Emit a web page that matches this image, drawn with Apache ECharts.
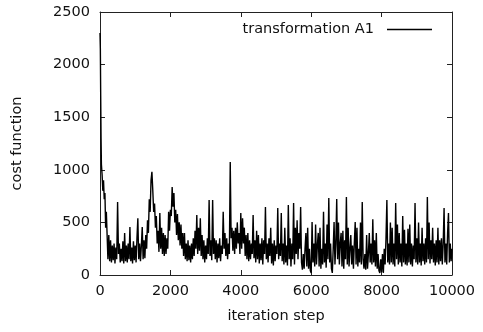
<!DOCTYPE html>
<html>
<head>
<meta charset="utf-8">
<script src="https://cdn.jsdelivr.net/npm/echarts@6/dist/echarts.min.js"></script>
<style>
html,body{margin:0;padding:0;background:#fff;}
#chart{width:483px;height:332px;}
</style>
</head>
<body>
<div id="chart"></div>
<script>
// initial descent (iteration step, cost)
const startSteps = [0, 10, 20, 30, 40, 60, 80, 100, 120, 140, 160, 180];
const startCosts = [2300, 2150, 1700, 1300, 1050, 950, 800, 900, 720, 780, 450, 600];
// remaining samples, one every 25 steps from step 200 to 10000
const sampleStart = 200;
const sampleStep = 25;
const costs = [
  400, 150, 380, 130, 330, 120, 280, 140, 300, 110, 260, 150, 694, 200, 300, 120, 250, 130, 320, 110,
  400, 130, 280, 120, 300, 150, 456, 130, 260, 110, 320, 140, 280, 120, 350, 540, 150, 300, 130, 280,
  456, 150, 330, 160, 380, 250, 520, 400, 720, 600, 900, 980, 800, 600, 680, 450, 560, 300, 420, 220,
  590, 250, 450, 200, 400, 180, 380, 200, 350, 250, 600, 420, 620, 560, 836, 650, 780, 500, 620, 380,
  580, 330, 500, 280, 480, 250, 400, 180, 400, 150, 300, 130, 330, 140, 280, 120, 300, 150, 350, 180,
  420, 250, 570, 200, 450, 230, 540, 180, 380, 150, 330, 120, 280, 150, 350, 200, 713, 180, 330, 140,
  713, 200, 350, 150, 330, 120, 300, 160, 350, 130, 280, 200, 600, 250, 400, 180, 350, 150, 300, 200,
  1075, 350, 450, 230, 420, 200, 450, 250, 500, 300, 400, 200, 590, 250, 540, 300, 450, 180, 380, 150,
  400, 130, 330, 150, 300, 200, 570, 160, 330, 120, 420, 150, 380, 110, 300, 140, 350, 100, 330, 200,
  646, 150, 300, 120, 350, 180, 450, 110, 300, 90, 330, 130, 280, 200, 636, 150, 300, 180, 590, 130,
  300, 100, 450, 120, 280, 90, 665, 150, 350, 80, 300, 150, 684, 100, 450, 200, 520, 150, 400, 250,
  646, 120, 50, 200, 60, 250, 400, 80, 450, 60, 250, 40, 20, 504, 120, 300, 80, 480, 100, 280,
  400, 80, 450, 60, 250, 100, 600, 120, 300, 70, 480, 150, 732, 120, 300, 60, 20, 250, 504, 100,
  300, 722, 150, 500, 100, 300, 400, 80, 420, 60, 330, 150, 741, 100, 450, 80, 250, 380, 100, 280,
  60, 300, 504, 100, 450, 80, 250, 120, 500, 100, 694, 150, 60, 200, 50, 380, 60, 200, 400, 120,
  300, 100, 530, 120, 330, 80, 400, 60, 200, 40, 20, 150, 30, 200, 20, 250, 100, 350, 713, 120,
  300, 100, 500, 120, 450, 100, 300, 80, 684, 150, 480, 100, 400, 120, 300, 80, 560, 120, 430, 100,
  300, 90, 440, 120, 480, 100, 300, 80, 280, 150, 684, 120, 350, 100, 500, 120, 300, 90, 450, 130,
  300, 100, 350, 120, 741, 150, 500, 110, 330, 150, 450, 120, 300, 90, 330, 120, 450, 100, 330, 130,
  350, 100, 300, 636, 120, 300, 100, 400, 590, 120, 300, 130, 250
];
const xTicks = [0, 2000, 4000, 6000, 8000, 10000];
const yTicks = [0, 500, 1000, 1500, 2000, 2500];

const data = startSteps.map((s, i) => [s, startCosts[i]]);
costs.forEach((c, i) => data.push([sampleStart + i * sampleStep, c]));

const FONT = 'DejaVu Sans';
const FS = 14.5;
const frame = {show: true, onZero: false, lineStyle: {color: '#222', width: 1}};
const ticks = {show: true, inside: true, length: 5, lineStyle: {color: '#222', width: 1}};
const plain = v => String(v);

const chart = echarts.init(document.getElementById('chart'), null, {renderer: 'canvas'});
chart.setOption({
  animation: false,
  backgroundColor: '#fff',
  grid: {left: 100, right: 31, top: 12, bottom: 57, containLabel: false},
  legend: {
    right: 46, top: 17, align: 'right',
    icon: 'rect', itemWidth: 45, itemHeight: 1.5,
    textStyle: {fontFamily: FONT, fontSize: FS, color: '#111', padding: [0, 8, 0, 0]},
    data: ['transformation A1']
  },
  xAxis: [{
    type: 'value', min: xTicks[0], max: xTicks[xTicks.length - 1], interval: 2000,
    position: 'bottom',
    name: 'iteration step', nameLocation: 'middle', nameGap: 34,
    nameTextStyle: {fontFamily: FONT, fontSize: FS, color: '#111'},
    axisLine: frame, axisTick: ticks, splitLine: {show: false},
    axisLabel: {fontFamily: FONT, fontSize: FS, color: '#111', margin: 9, formatter: plain}
  }, {
    type: 'value', min: xTicks[0], max: xTicks[xTicks.length - 1], interval: 2000,
    position: 'top',
    axisLine: frame, axisTick: ticks, splitLine: {show: false}, axisLabel: {show: false}
  }],
  yAxis: [{
    type: 'value', min: yTicks[0], max: yTicks[yTicks.length - 1], interval: 500,
    position: 'left',
    name: 'cost function', nameLocation: 'middle', nameGap: 75,
    nameTextStyle: {fontFamily: FONT, fontSize: FS, color: '#111'},
    axisLine: frame, axisTick: ticks, splitLine: {show: false},
    axisLabel: {fontFamily: FONT, fontSize: FS, color: '#111', margin: 10, formatter: plain}
  }, {
    type: 'value', min: yTicks[0], max: yTicks[yTicks.length - 1], interval: 500,
    position: 'right',
    axisLine: frame, axisTick: ticks, splitLine: {show: false}, axisLabel: {show: false}
  }],
  series: [{
    name: 'transformation A1',
    type: 'line',
    data: data,
    showSymbol: false,
    symbol: 'none',
    lineStyle: {color: '#000', width: 1.4},
    itemStyle: {color: '#000'}
  }]
});
</script>
</body>
</html>
